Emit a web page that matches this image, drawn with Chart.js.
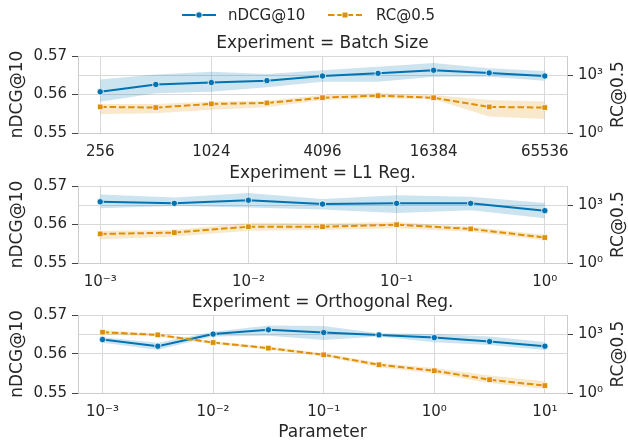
<!DOCTYPE html>
<html><head><meta charset="utf-8">
<script src="https://cdn.jsdelivr.net/npm/chart.js@4"></script>
<style>
html,body{margin:0;padding:0;background:#fff;}
#wrap{position:relative;width:628px;height:443px;overflow:hidden;background:#fff;}
canvas{position:absolute;left:0;}
</style></head><body>
<div id="wrap">
<canvas id="c1" width="628" height="160" style="top:0;width:628px;height:160px"></canvas>
<canvas id="c2" width="628" height="130" style="top:160px;width:628px;height:130px"></canvas>
<canvas id="c3" width="628" height="153" style="top:290px;width:628px;height:153px"></canvas>
</div>
<script>
// ---------- data ----------
const seriesNames = ['nDCG@10', 'RC@0.5'];
const panelTitles = ['Experiment = Batch Size', 'Experiment = L1 Reg.', 'Experiment = Orthogonal Reg.'];

const batchSizes = [256, 512, 1024, 2048, 4096, 8192, 16384, 32768, 65536];
const bsNdcg   = [0.5607, 0.5626, 0.5631, 0.5636, 0.5648, 0.5655, 0.5663, 0.5656, 0.5648];
const bsNdcgLo = [0.5581, 0.5603, 0.5607, 0.5619, 0.5633, 0.5633, 0.5646, 0.5646, 0.5636];
const bsNdcgHi = [0.5639, 0.5652, 0.5659, 0.5653, 0.5663, 0.5672, 0.5682, 0.5668, 0.5661];
const bsRc   = [22.7, 20.9, 32.4, 36.4, 68, 87, 68, 22.7, 20.9];
const bsRcLo = [9.7, 10.5, 16, 22, 52, 63, 56, 7.2, 5.3];
const bsRcHi = [32, 32, 43, 48, 94, 115, 94, 52, 43];
const bsTicks = [256, 1024, 4096, 16384, 65536];
const bsTickLabels = ['256', '1024', '4096', '16384', '65536'];

const l1Params = [0.001, 0.003162, 0.01, 0.03162, 0.1, 0.3162, 1];
const l1Ndcg   = [0.5659, 0.5655, 0.5663, 0.5653, 0.5655, 0.5655, 0.5636];
const l1NdcgLo = [0.5642, 0.5648, 0.5644, 0.5639, 0.5630, 0.5637, 0.5616];
const l1NdcgHi = [0.5678, 0.5670, 0.5682, 0.5666, 0.5676, 0.5672, 0.5656];
const l1Rc   = [32.4, 38, 77, 77, 98, 59, 21];
const l1RcLo = [17, 23.5, 48, 52, 64, 42, 15];
const l1RcHi = [48, 52, 124, 116, 134, 77, 29];
const l1Ticks = [0.001, 0.01, 0.1, 1];
const l1TickLabels = ['10\u207B\u00B3', '10\u207B\u00B2', '10\u207B\u00B9', '10\u2070'];

const orthParams = [0.001, 0.003162, 0.01, 0.03162, 0.1, 0.3162, 1, 3.162, 10];
const orthNdcg   = [0.5637, 0.5620, 0.5651, 0.5662, 0.5655, 0.5649, 0.5642, 0.5632, 0.5620];
const orthNdcgLo = [0.5629, 0.5611, 0.5645, 0.5647, 0.5636, 0.5645, 0.5630, 0.5623, 0.5610];
const orthNdcgHi = [0.5643, 0.5629, 0.5657, 0.5673, 0.5672, 0.5653, 0.5651, 0.5645, 0.5631];
const orthRc   = [1310, 955, 386, 200, 91, 28, 13.8, 4.8, 2.4];
const orthRcLo = [1000, 800, 330, 165, 75, 21, 10, 3.3, 1.6];
const orthRcHi = [1700, 1100, 450, 240, 110, 36, 19, 7.9, 4.0];
const orthTicks = [0.001, 0.01, 0.1, 1, 10];
const orthTickLabels = ['10\u207B\u00B3', '10\u207B\u00B2', '10\u207B\u00B9', '10\u2070', '10\u00B9'];

const ndcgTicks = [0.55, 0.56, 0.57];
const rcTicks = [1, 1000];
const rcTickLabels = ['10\u2070', '10\u00B3'];

// ---------- styling ----------
const BLUE = '#0173B2', ORANGE = '#DE8F05';
const BLUE_BAND = 'rgba(1,115,178,0.2)', ORANGE_BAND = 'rgba(222,143,5,0.2)';
const TEXT = '#262626', GRID = '#d9d9d9', SPINE = '#cccccc', TICKC = '#444444';
const FONT = "'DejaVu Sans', sans-serif";
Chart.defaults.font.family = FONT;
Chart.defaults.color = TEXT;

const annot = {
  id: 'annot',
  afterDraw(chart, args, opts) {
    const ctx = chart.ctx, ca = chart.chartArea;
    ctx.save();
    ctx.fillStyle = TEXT;
    ctx.textAlign = 'center';
    ctx.textBaseline = 'middle';
    ctx.font = '17px ' + FONT;
    ctx.fillText(opts.title, (ca.left + ca.right) / 2, ca.top - 12);
    ctx.save();
    ctx.translate(619, (ca.top + ca.bottom) / 2);
    ctx.rotate(-Math.PI / 2);
    ctx.fillText(seriesNames[1], 0, 0);
    ctx.restore();
    if (opts.legend) {
      const y = 15;
      ctx.lineWidth = 2;
      ctx.strokeStyle = BLUE;
      ctx.beginPath(); ctx.moveTo(182, y); ctx.lineTo(216, y); ctx.stroke();
      ctx.fillStyle = BLUE; ctx.strokeStyle = '#fff'; ctx.lineWidth = 0.8;
      ctx.beginPath(); ctx.arc(199, y, 3.2, 0, Math.PI * 2); ctx.fill(); ctx.stroke();
      ctx.strokeStyle = ORANGE; ctx.lineWidth = 2; ctx.setLineDash([6.5, 2.8]);
      ctx.beginPath(); ctx.moveTo(328, y); ctx.lineTo(362, y); ctx.stroke();
      ctx.setLineDash([]);
      ctx.fillStyle = ORANGE; ctx.strokeStyle = '#fff'; ctx.lineWidth = 0.8;
      ctx.beginPath(); ctx.rect(345 - 2.9, y - 2.9, 5.8, 5.8); ctx.fill(); ctx.stroke();
      ctx.fillStyle = TEXT; ctx.textAlign = 'left'; ctx.font = '15px ' + FONT;
      ctx.fillText(seriesNames[0], 228, y + 1);
      ctx.fillText(seriesNames[1], 376, y + 1);
    }
    ctx.restore();
  }
};

function pts(xs, ys) { return xs.map((x, i) => ({ x: x, y: ys[i] })); }

function makePanel(p) {
  const ds = [
    { data: pts(p.x, p.ndcgHi), yAxisID: 'y', borderWidth: 0, pointRadius: 0, fill: false, order: 4 },
    { data: pts(p.x, p.ndcgLo), yAxisID: 'y', borderWidth: 0, pointRadius: 0, fill: '-1', backgroundColor: BLUE_BAND, order: 4 },
    { data: pts(p.x, p.ndcg), yAxisID: 'y', borderColor: BLUE, borderWidth: 2, pointRadius: 3.2,
      pointBackgroundColor: BLUE, pointBorderColor: '#fff', pointBorderWidth: 0.8, fill: false, order: 3 },
    { data: pts(p.x, p.rcHi), yAxisID: 'y1', borderWidth: 0, pointRadius: 0, fill: false, order: 2 },
    { data: pts(p.x, p.rcLo), yAxisID: 'y1', borderWidth: 0, pointRadius: 0, fill: '-1', backgroundColor: ORANGE_BAND, order: 2 },
    { data: pts(p.x, p.rc), yAxisID: 'y1', borderColor: ORANGE, borderWidth: 2, borderDash: [6.5, 2.8],
      pointStyle: 'rect', pointRadius: 4, pointBackgroundColor: ORANGE, pointBorderColor: '#fff', pointBorderWidth: 0.8, fill: false, order: 1 }
  ];
  return new Chart(document.getElementById(p.id), {
    type: 'line',
    data: { datasets: ds },
    plugins: [annot],
    options: {
      responsive: false, animation: false, devicePixelRatio: 1,
      layout: { padding: { top: p.top, left: 0, right: 0, bottom: 0 } },
      elements: { line: { tension: 0 } },
      plugins: { legend: { display: false }, tooltip: { enabled: false }, title: { display: false },
        annot: { title: p.title, legend: !!p.legend } },
      scales: {
        x: {
          type: 'logarithmic', min: p.xMin, max: p.xMax,
          afterBuildTicks: s => { s.ticks = p.xTicks.map(v => ({ value: v })); },
          afterFit: s => { s.height = p.xh; },
          ticks: { autoSkip: false, maxRotation: 0, minRotation: 0, padding: 10, color: TEXT, font: { size: 15 },
            callback: (v) => { const i = p.xTicks.findIndex(t => Math.abs(t - v) / t < 1e-6); return i >= 0 ? p.xTickLabels[i] : ''; } },
          grid: { color: GRID, lineWidth: 1, drawTicks: false },
          border: { color: SPINE, width: 1 },
          title: { display: !!p.xTitle, text: p.xTitle || '', color: TEXT, font: { size: 17 }, padding: { top: 0, bottom: 0 } }
        },
        y: {
          type: 'linear', position: 'left', min: 0.55, max: 0.57,
          afterBuildTicks: s => { s.ticks = ndcgTicks.map(v => ({ value: v })); },
          afterFit: s => { s.width = 78; },
          ticks: { padding: 5, color: TEXT, font: { size: 15 }, callback: v => Number(v).toFixed(2) },
          grid: { color: GRID, lineWidth: 1, drawTicks: true, tickLength: 6, tickColor: TICKC, tickWidth: 1 },
          border: { color: SPINE, width: 1 },
          title: { display: true, text: seriesNames[0], color: TEXT, font: { size: 17 }, padding: { top: 7, bottom: 0 } }
        },
        y1: {
          type: 'logarithmic', position: 'right', min: 1, max: 10000,
          afterBuildTicks: s => { s.ticks = rcTicks.map(v => ({ value: v })); },
          afterFit: s => { s.width = 61; },
          ticks: { padding: 5, color: TEXT, font: { size: 15 },
            callback: (v) => { const i = rcTicks.indexOf(Number(v)); return i >= 0 ? rcTickLabels[i] : ''; } },
          grid: { color: GRID, lineWidth: 1, drawTicks: true, tickLength: 6, tickColor: TICKC, tickWidth: 1, drawOnChartArea: true },
          border: { color: SPINE, width: 1 }
        }
      }
    }
  });
}

makePanel({ id: 'c1', top: 56, xh: 27, x: batchSizes, ndcg: bsNdcg, ndcgLo: bsNdcgLo, ndcgHi: bsNdcgHi,
  rc: bsRc, rcLo: bsRcLo, rcHi: bsRcHi, xMin: 256 / Math.pow(2, 0.4), xMax: 65536 * Math.pow(2, 0.4),
  xTicks: bsTicks, xTickLabels: bsTickLabels, title: panelTitles[0], legend: true });
makePanel({ id: 'c2', top: 26, xh: 27, x: l1Params, ndcg: l1Ndcg, ndcgLo: l1NdcgLo, ndcgHi: l1NdcgHi,
  rc: l1Rc, rcLo: l1RcLo, rcHi: l1RcHi, xMin: Math.pow(10, -3.15), xMax: Math.pow(10, 0.15),
  xTicks: l1Ticks, xTickLabels: l1TickLabels, title: panelTitles[1] });
makePanel({ id: 'c3', top: 25, xh: 50, x: orthParams, ndcg: orthNdcg, ndcgLo: orthNdcgLo, ndcgHi: orthNdcgHi,
  rc: orthRc, rcLo: orthRcLo, rcHi: orthRcHi, xMin: Math.pow(10, -3.2), xMax: Math.pow(10, 1.2),
  xTicks: orthTicks, xTickLabels: orthTickLabels, title: panelTitles[2], xTitle: 'Parameter' });
</script>
</body></html>
